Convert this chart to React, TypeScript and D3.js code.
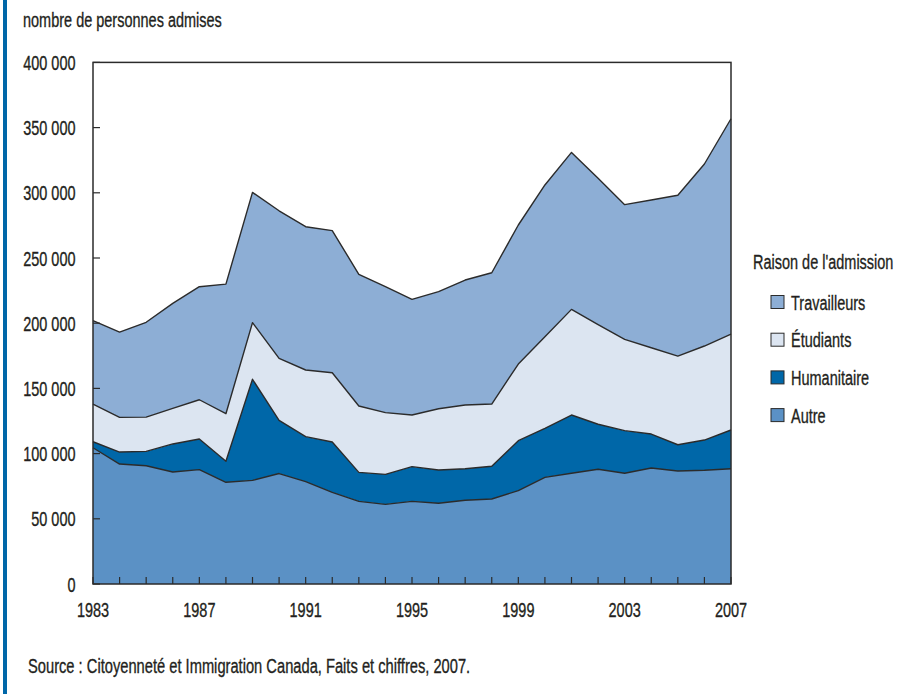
import React from "react";
import * as d3 from "d3";

const years = d3.range(1983, 2008);
const yearLabels = [1983, 1987, 1991, 1995, 1999, 2003, 2007];
const yTicks = [0, 50000, 100000, 150000, 200000, 250000, 300000, 350000, 400000];

const autre = [104500, 92000, 90700, 85900, 87700, 78000, 79500, 84700, 78500, 70300, 63400, 61100, 63400, 61900, 64200, 65200, 71600, 81800, 84900, 88000, 84900, 89000, 86700, 87200, 88400];
const humanitaire = [4600, 9200, 11000, 21500, 23500, 16100, 77500, 40800, 34500, 38600, 22200, 23000, 26600, 25500, 24200, 25100, 38300, 37600, 44700, 34500, 32700, 26000, 20100, 23200, 29700];
const etudiants = [28900, 26600, 26300, 27300, 30100, 36500, 43400, 47500, 51100, 53100, 50900, 47300, 39600, 47000, 48900, 47700, 58800, 70200, 81000, 76400, 70000, 66200, 68000, 72100, 73600];
const travailleurs = [63900, 65400, 72700, 80500, 86700, 99400, 99900, 113200, 109900, 109000, 101000, 96600, 88700, 89800, 95800, 100700, 106600, 116400, 120400, 112200, 103300, 113300, 123300, 139600, 165100];

const seriesKeys = ["autre", "humanitaire", "etudiants", "travailleurs"];
const seriesNames: Record<string, string> = {
  autre: "Autre",
  humanitaire: "Humanitaire",
  etudiants: "Étudiants",
  travailleurs: "Travailleurs",
};
const colors: Record<string, string> = {
  autre: "#5b91c5",
  humanitaire: "#0067a8",
  etudiants: "#dce5f1",
  travailleurs: "#8daed5",
};
const legendOrder = ["travailleurs", "etudiants", "humanitaire", "autre"];

const FONT = "'Liberation Sans', Arial, sans-serif";
const INK = "#231f20";
const SX = 0.69;

function T(props: { x: number; y: number; size: number; anchor?: string; dy?: string; sx?: number; children: any }) {
  const { x, y, size, anchor = "start", dy, sx = SX, children } = props;
  return (
    <text
      transform={`translate(${x},${y}) scale(${sx},1)`}
      textAnchor={anchor}
      dy={dy}
      fontSize={size}
      fill={INK}
      stroke={INK}
      strokeWidth={0.35}
    >
      {children}
    </text>
  );
}

export default function App() {
  const W = 909, H = 694;
  const left = 93, right = 731, top = 62.4, bottom = 584;
  const x = d3.scaleLinear().domain([1983, 2007]).range([left, right]);
  const y = d3.scaleLinear().domain([0, 400000]).range([bottom, top]);

  const table = years.map((yr, i) => ({
    year: yr,
    autre: autre[i],
    humanitaire: humanitaire[i],
    etudiants: etudiants[i],
    travailleurs: travailleurs[i],
  }));
  const stacked = d3.stack<any>().keys(seriesKeys)(table);
  const area = d3
    .area<any>()
    .x((d) => x(d.data.year))
    .y0((d) => y(d[0]))
    .y1((d) => y(d[1]));
  const line = d3
    .line<any>()
    .x((d) => x(d.data.year))
    .y((d) => y(d[1]));

  return (
    <svg
      width={W}
      height={H}
      style={{ position: "absolute", left: 0, top: 0, background: "#fff" }}
      fontFamily={FONT}
    >
      <rect x={3} y={0} width={4} height={H} fill="#0067a8" />
      <T x={23} y={27} size={21}>nombre de personnes admises</T>

      {stacked.map((s) => (
        <path key={s.key} d={area(s) || ""} fill={colors[s.key]} />
      ))}
      {stacked.map((s) => (
        <path key={"l" + s.key} d={line(s) || ""} fill="none" stroke="#2b2b2b" strokeWidth={1.4} strokeLinejoin="round" />
      ))}

      {years.map((yr) => (
        <line key={"xt" + yr} x1={x(yr)} x2={x(yr)} y1={bottom} y2={bottom - 7} stroke="#2b2b2b" strokeWidth={1.2} />
      ))}
      {yTicks.map((v) => (
        <line key={"yt" + v} x1={left} x2={left + 7} y1={y(v)} y2={y(v)} stroke="#2b2b2b" strokeWidth={1.2} />
      ))}
      <rect x={left} y={top} width={right - left} height={bottom - top} fill="none" stroke="#2b2b2b" strokeWidth={1.5} />

      {yTicks.map((v) => (
        <T key={"yl" + v} x={75.5} y={y(v)} dy="0.36em" anchor="end" size={21}>
          {d3.format(",")(v).replace(/,/g, " ")}
        </T>
      ))}
      {yearLabels.map((yr) => (
        <T key={"xl" + yr} x={x(yr)} y={616.5} anchor="middle" size={21}>
          {yr}
        </T>
      ))}

      <T x={753} y={269} size={21}>Raison de l'admission</T>
      {legendOrder.map((k, i) => (
        <g key={"lg" + k} transform={`translate(771, ${302 + i * 37.7})`}>
          <rect x={0} y={-6.5} width={13} height={13} fill={colors[k]} stroke="#2b2b2b" strokeWidth={1} />
          <T x={20} y={0} dy="0.36em" size={21}>{seriesNames[k]}</T>
        </g>
      ))}

      <T x={28} y={673} size={21} sx={0.7}>Source : Citoyenneté et Immigration Canada, Faits et chiffres, 2007.</T>
    </svg>
  );
}
